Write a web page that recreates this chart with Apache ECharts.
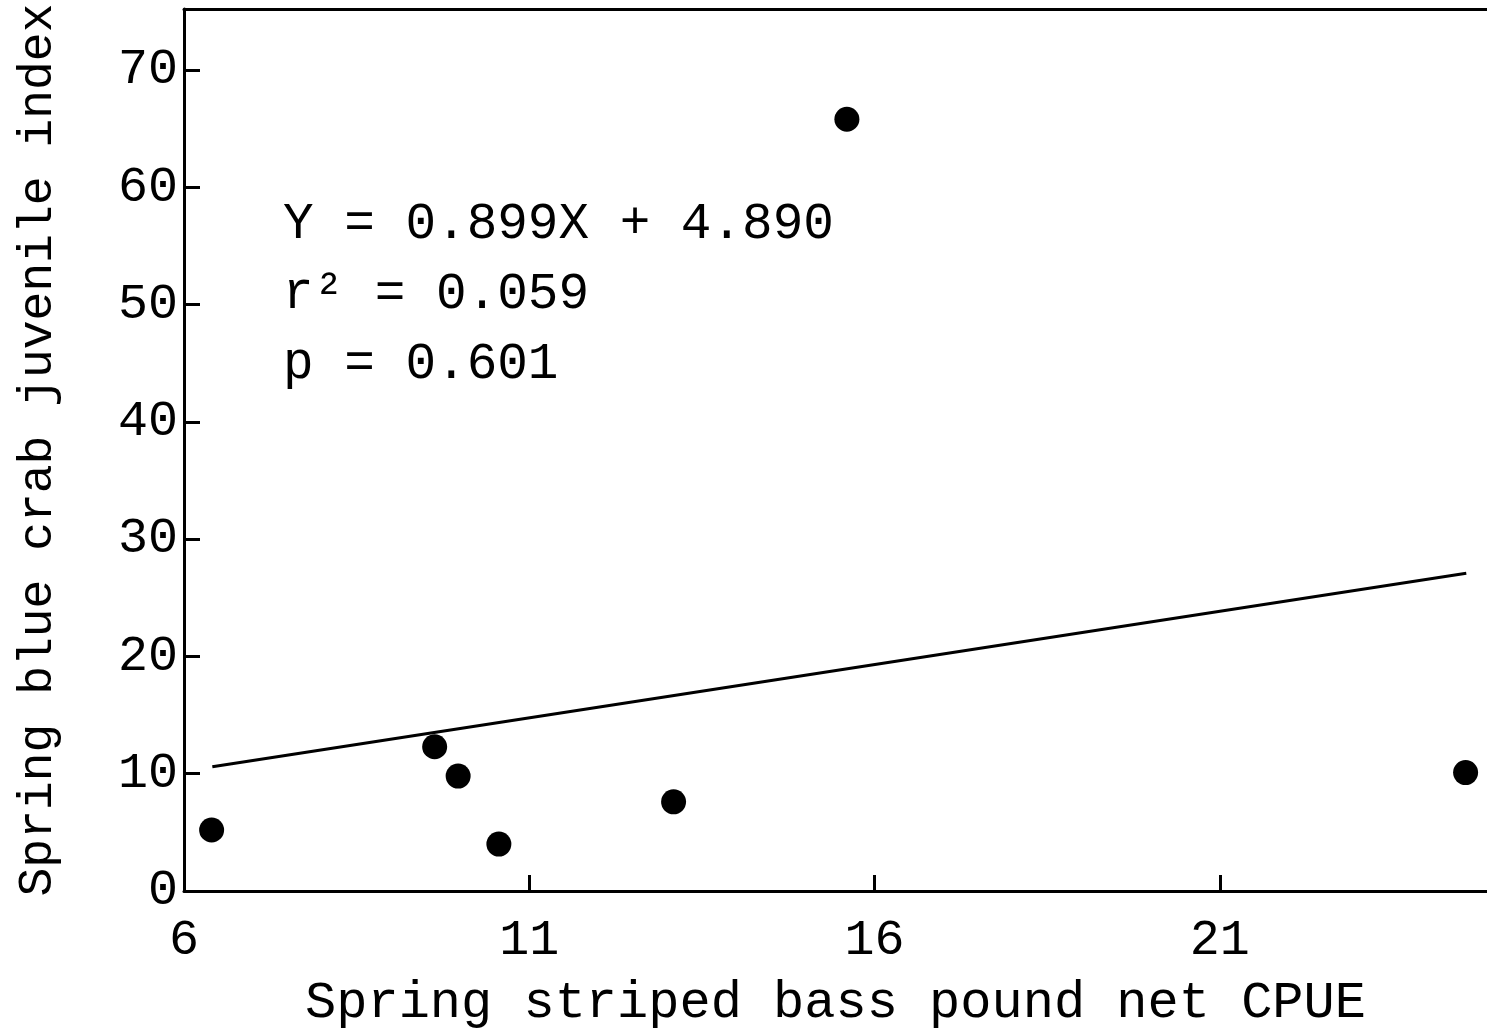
<!DOCTYPE html>
<html>
<head>
<meta charset="utf-8">
<script src="https://cdn.jsdelivr.net/npm/echarts@6/dist/echarts.min.js"></script>
<style>
  html, body { margin: 0; padding: 0; background: #fff; }
  #chart { width: 1487px; height: 1036px; }
</style>
</head>
<body>
<div id="chart"></div>
<script>
// striped bass CPUE vs blue crab juvenile index
let cpue = [6.40, 9.63, 9.97, 10.56, 13.09, 15.60, 24.56];
let crabIndex = [5.2, 12.3, 9.8, 4.0, 7.6, 65.8, 10.1];
let fitX = [6.41, 24.57];
let fitY = [10.6, 27.1];
let xTicks = [6, 11, 16, 21];
let yTicks = [0, 10, 20, 30, 40, 50, 60, 70];
let statLines = ['Y = 0.899X + 4.890', 'r² = 0.059', 'p = 0.601'];

let font = 'Liberation Mono';
let xMin = 6, xMax = 24.87;
let myChart = echarts.init(document.getElementById('chart'));

let points = cpue.map(function (x, i) { return [x, crabIndex[i]]; });
let fit = fitX.map(function (x, i) { return [x, fitY[i]]; });

let option = {
    backgroundColor: '#fff',
    animation: false,
    grid: {
        left: 184,
        right: 0,
        top: 9,
        bottom: 145
    },
    xAxis: [{
        type: 'value',
        min: xMin,
        max: xMax,
        name: 'Spring striped bass pound net CPUE',
        nameLocation: 'middle',
        nameGap: 86,
        nameTextStyle: { fontFamily: font, fontSize: 52, color: '#000' },
        axisLine: { lineStyle: { color: '#000', width: 3 } },
        axisTick: { inside: true, length: 16, customValues: xTicks, lineStyle: { color: '#000', width: 3 } },
        axisLabel: { customValues: xTicks, margin: 25, fontFamily: font, fontSize: 50, color: '#000' },
        splitLine: { show: false }
    }, {
        // top frame line only
        type: 'value',
        position: 'top',
        min: xMin,
        max: xMax,
        axisLine: { lineStyle: { color: '#000', width: 3 } },
        axisTick: { show: false },
        axisLabel: { show: false },
        splitLine: { show: false }
    }],
    yAxis: {
        type: 'value',
        min: 0,
        max: 75.2,
        name: 'Spring blue crab juvenile index',
        nameLocation: 'middle',
        nameGap: 122,
        nameTextStyle: { fontFamily: font, fontSize: 48, color: '#000' },
        axisLine: { lineStyle: { color: '#000', width: 3 } },
        axisTick: { inside: true, length: 16, customValues: yTicks, lineStyle: { color: '#000', width: 3 } },
        axisLabel: { customValues: yTicks, margin: 6, fontFamily: font, fontSize: 50, color: '#000' },
        splitLine: { show: false }
    },
    graphic: statLines.map(function (t, i) {
        return {
            type: 'text',
            left: 283,
            top: 199 + i * 70,
            style: { text: t, fontFamily: font, fontSize: 51, fill: '#000' }
        };
    }),
    series: [{
        type: 'line',
        data: fit,
        symbol: 'none',
        lineStyle: { color: '#000', width: 3 },
        z: 2
    }, {
        type: 'scatter',
        data: points,
        symbolSize: 25,
        itemStyle: { color: '#000', opacity: 1 },
        z: 3
    }]
};
myChart.setOption(option);
</script>
</body>
</html>
